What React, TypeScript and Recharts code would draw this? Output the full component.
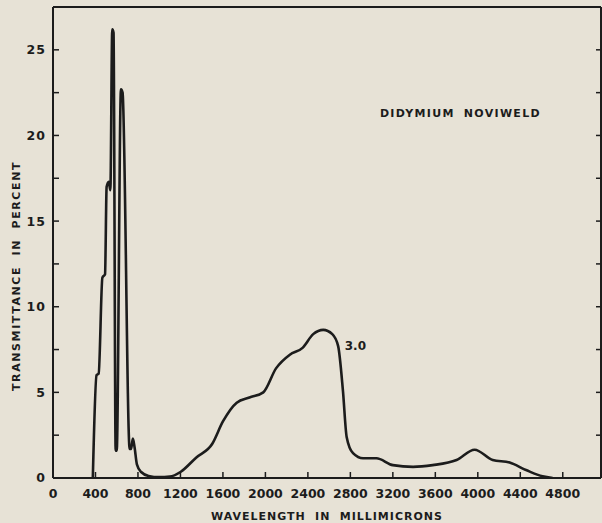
import { LineChart, Line, XAxis, YAxis, ReferenceDot } from 'recharts';

// wavelength (millimicrons) and transmittance (%)
const wavelengths = [
  375, 410, 430, 465, 490, 505, 525, 540, 558, 570, 590, 600, 640, 655, 722, 735, 752, 768, 790, 830,
  900, 1000, 1100, 1200, 1350, 1500, 1600, 1730, 1850, 1980, 2100, 2230, 2350, 2450, 2545, 2630, 2685,
  2730, 2765, 2825, 2920, 3045, 3200, 3390, 3575, 3800, 3970, 4140, 4300, 4460, 4610, 4705,
];
const transmittance = [
  0, 6.0, 6.1, 11.7, 11.9, 17.0, 17.3, 16.8, 26.2, 26.0, 1.6, 1.6, 22.7, 22.5, 1.7, 1.7, 2.3, 1.8, 0.8, 0.35,
  0.12, 0.05, 0.08, 0.35, 1.2, 2.0, 3.3, 4.4, 4.7, 5.0, 6.4, 7.2, 7.6, 8.4, 8.65, 8.4, 7.7,
  5.1, 2.4, 1.45, 1.15, 1.15, 0.75, 0.65, 0.75, 1.05, 1.65, 1.05, 0.9, 0.45, 0.1, 0,
];
const xTicks = [0, 400, 800, 1200, 1600, 2000, 2400, 2800, 3200, 3600, 4000, 4400, 4800];
const yTicks = [0, 2.5, 5, 7.5, 10, 12.5, 15, 17.5, 20, 22.5, 25, 27.5];

const glassName = 'DIDYMIUM NOVIWELD';
const thicknessLabel = '3.0';

const data = wavelengths.map((w, i) => ({ w, t: transmittance[i] }));

const ink = '#1c1c1c';
const font = { fontFamily: 'DejaVu Sans', fontWeight: 700, fill: ink };

export default function App() {
  return (
    <div style={{ position: 'absolute', left: 0, top: 0, width: 602, height: 523, background: '#e7e2d6' }}>
      <LineChart width={602} height={523} data={data} margin={{ top: 0, right: 0, bottom: 0, left: 0 }}>
        <XAxis
          dataKey="w"
          type="number"
          domain={[0, 5160]}
          ticks={xTicks}
          height={45}
          allowDataOverflow
          axisLine={{ stroke: ink, strokeWidth: 2 }}
          tickLine={{ stroke: ink, strokeWidth: 1.5 }}
          tickSize={-6}
          tickMargin={17}
          tick={{ ...font, fontSize: 12.5 }}
          label={{
            value: 'WAVELENGTH IN MILLIMICRONS',
            position: 'insideBottom',
            offset: 3,
            style: { ...font, fontSize: 11, letterSpacing: 1, wordSpacing: 4.5 },
          }}
        />
        <XAxis
          xAxisId="top"
          orientation="top"
          type="number"
          domain={[0, 5160]}
          ticks={xTicks}
          height={7}
          allowDataOverflow
          axisLine={{ stroke: ink, strokeWidth: 2 }}
          tickLine={{ stroke: ink, strokeWidth: 1.5 }}
          tickSize={-6}
          tickFormatter={() => ''}
        />
        <YAxis
          type="number"
          domain={[0, 27.5]}
          ticks={yTicks}
          width={53}
          allowDataOverflow
          axisLine={{ stroke: ink, strokeWidth: 2 }}
          tickLine={{ stroke: ink, strokeWidth: 1.5 }}
          tickSize={-6}
          tickMargin={13}
          tick={{ ...font, fontSize: 12.5, letterSpacing: 1 }}
          tickFormatter={(v) => (v % 5 === 0 ? String(v) : '')}
          label={{
            content: () => (
              <text
                x={20}
                y={276}
                transform="rotate(-90, 20, 276)"
                textAnchor="middle"
                style={{ ...font, fontSize: 11, letterSpacing: 1.6, wordSpacing: 5 }}
              >
                TRANSMITTANCE IN PERCENT
              </text>
            ),
          }}
        />
        <YAxis
          yAxisId="right"
          orientation="right"
          type="number"
          domain={[0, 27.5]}
          ticks={yTicks}
          width={1}
          allowDataOverflow
          axisLine={{ stroke: ink, strokeWidth: 2 }}
          tickLine={{ stroke: ink, strokeWidth: 1.5 }}
          tickSize={-5}
          tickFormatter={() => ''}
        />
        <Line
          dataKey="t"
          type="monotone"
          stroke={ink}
          strokeWidth={2.6}
          dot={false}
          isAnimationActive={false}
        />
        <ReferenceDot
          x={2700}
          y={7.7}
          r={0}
          stroke="none"
          label={{ value: thicknessLabel, position: 'right', offset: 5, style: { ...font, fontSize: 12 } }}
        />
        <ReferenceDot
          x={3078}
          y={21.3}
          r={0}
          stroke="none"
          label={{
            value: glassName,
            position: 'right',
            offset: 0,
            style: { ...font, fontSize: 11, letterSpacing: 1.3, wordSpacing: 4 },
          }}
        />
      </LineChart>
    </div>
  );
}
